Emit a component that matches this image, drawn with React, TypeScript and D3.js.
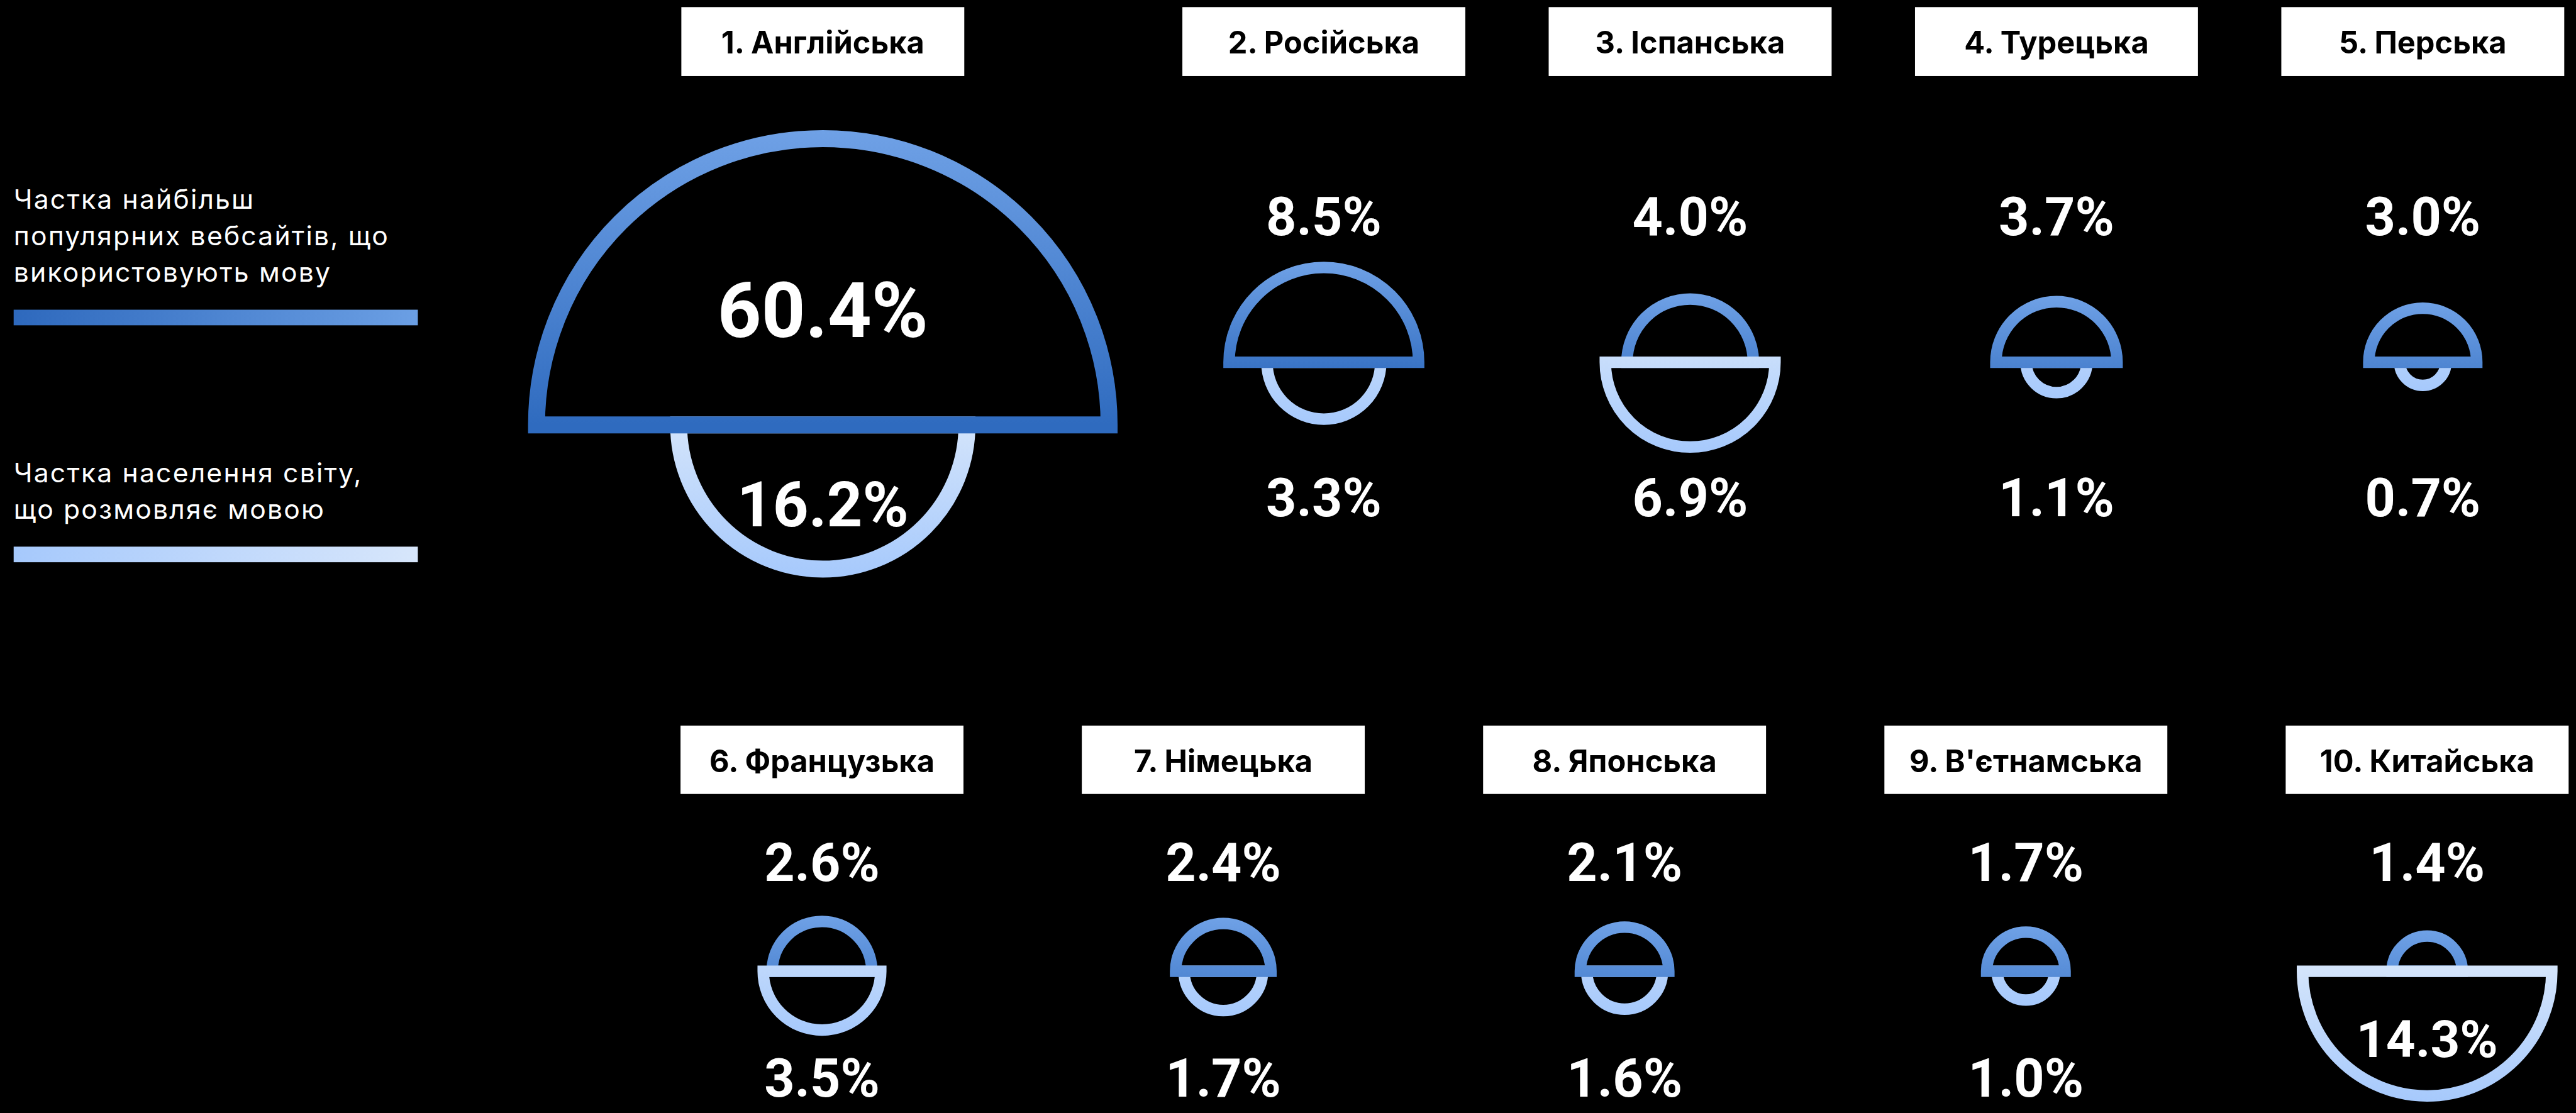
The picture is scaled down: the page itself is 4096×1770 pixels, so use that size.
import React, { useEffect } from 'react';
import * as d3 from 'd3';

// ranking of languages by share of the most popular websites
const languages = [
  'Англійська',
  'Російська',
  'Іспанська',
  'Турецька',
  'Перська',
  'Французька',
  'Німецька',
  'Японська',
  "В'єтнамська",
  'Китайська',
];
const websiteShare = [60.4, 8.5, 4.0, 3.7, 3.0, 2.6, 2.4, 2.1, 1.7, 1.4];
const speakerShare = [16.2, 3.3, 6.9, 1.1, 0.7, 3.5, 1.7, 1.6, 1.0, 14.3];

const legendWeb = ['Частка найбільш', 'популярних вебсайтів, що', 'використовують мову'];
const legendPop = ['Частка населення світу,', 'що розмовляє мовою'];

// drawing is done in the reference's coordinates and scaled by the viewBox
const W = 4706;
const H = 2034;
const OUT_W = 4096;
const OUT_H = 1770;
const FONT = 'Inter, "Noto Sans", "DejaVu Sans", sans-serif';
const NUM_FONT = 'Roboto, Inter, "Noto Sans", sans-serif';

const BOX_W = 517;
const ROWS = [
  { boxTop: 13, boxH: 126, base: 662, topLabel: 430, bottomLabel: 944, topLimit: 238 },
  { boxTop: 1326, boxH: 125, base: 1775, topLabel: 1610, bottomLabel: 2004, topLimit: 1500 },
];

const TOP_LIGHT = '#6fa1e6';
const TOP_DARK = '#2f6bbf';
const BOT_LIGHT = '#d3e4fb';
const BOT_DARK = '#a6c9fc';

const fmt = d3.format('.1f');
const rScale = d3.scaleSqrt().domain([0, 1]).range([0, 63]); // outer radius
const row1X = d3.scalePoint<string>().domain(languages.slice(1, 5)).range([2418.5, 4426.5]);
const row2X = d3.scalePoint<string>().domain(languages.slice(5)).range([1501.5, 4434.5]);

function halfDisc(cx: number, base: number, r: number, up: boolean) {
  const p = d3.path();
  p.moveTo(cx - r, base);
  if (up) p.arc(cx, base, r, Math.PI, 2 * Math.PI);
  else p.arc(cx, base, r, Math.PI, 0, true);
  p.closePath();
  return p.toString();
}

const App: React.FC = () => {
  useEffect(() => {
    document.body.style.margin = '0';
    document.body.style.background = '#000';
  }, []);

  const panels = languages.map((name, i) => {
    const featured = i === 0;
    const row = i < 5 ? ROWS[0] : ROWS[1];
    const cx = featured ? 1503 : i < 5 ? (row1X(name) as number) : (row2X(name) as number);
    const k = featured ? 1.1 : 1;
    const sw = featured ? 31 : 21;
    const outerTop = rScale(websiteShare[i]) * k;
    const outerBot = rScale(speakerShare[i]) * k;
    const base = Math.max(row.base, row.topLimit + outerTop);

    const shapes = [
      { key: 'top', up: true, value: websiteShare[i], outer: outerTop },
      { key: 'bot', up: false, value: speakerShare[i], outer: outerBot },
    ].map((s) => {
      const L = Math.max(s.outer, 230);
      const far = s.up ? base - s.outer : base + s.outer;
      const inside = s.outer > 200;
      const size = inside ? (featured ? (s.up ? 140 : 114) : 94) : 97;
      let y: number;
      if (inside) {
        const c = s.up ? base - 0.39 * s.outer : base + 0.52 * s.outer;
        y = c + 0.355 * size;
      } else {
        y = s.up ? row.topLabel : row.bottomLabel;
      }
      return {
        ...s,
        id: `g-${i}-${s.key}`,
        d: halfDisc(cx, base, s.outer - sw / 2, s.up),
        y1: far,
        y2: s.up ? far + L : far - L,
        c1: s.up ? TOP_LIGHT : BOT_DARK,
        c2: s.up ? TOP_DARK : BOT_LIGHT,
        label: `${fmt(s.value)}%`,
        labelY: y,
        size,
      };
    });
    // the larger half is drawn last so its base line covers the smaller one
    shapes.sort((a, b) => a.outer - b.outer);

    return { name, i, cx, row, sw, shapes };
  });

  return (
    <svg
      width={OUT_W}
      height={OUT_H}
      viewBox={`0 0 ${W} ${H}`}
      style={{ position: 'absolute', left: 0, top: 0, display: 'block' }}
      fontFamily={FONT}
    >
      <defs>
        <linearGradient id="leg-web" x1="0" x2="1" y1="0" y2="0">
          <stop offset="0" stopColor="#2e69bd" />
          <stop offset="1" stopColor="#6b9fe4" />
        </linearGradient>
        <linearGradient id="leg-pop" x1="0" x2="1" y1="0" y2="0">
          <stop offset="0" stopColor="#a6c9fc" />
          <stop offset="1" stopColor="#d7e6fb" />
        </linearGradient>
        {panels.map((p) =>
          p.shapes.map((s) => (
            <linearGradient
              key={s.id}
              id={s.id}
              gradientUnits="userSpaceOnUse"
              x1={0}
              x2={0}
              y1={s.y1}
              y2={s.y2}
            >
              <stop offset="0" stopColor={s.c1} />
              <stop offset="1" stopColor={s.c2} />
            </linearGradient>
          ))
        )}
      </defs>

      <rect x={0} y={0} width={W} height={H} fill="#000" />

      {/* legend */}
      <g fill="#fff" fontSize={49} letterSpacing={2.5}>
        {legendWeb.map((t, j) => (
          <text key={t} x={24.5} y={381 + j * 67}>
            {t}
          </text>
        ))}
        {legendPop.map((t, j) => (
          <text key={t} x={24.5} y={881 + j * 67}>
            {t}
          </text>
        ))}
      </g>
      <rect x={24.5} y={566} width={738.5} height={28.5} fill="url(#leg-web)" />
      <rect x={24.5} y={999} width={738.5} height={28.5} fill="url(#leg-pop)" />

      {panels.map((p) => (
        <g key={p.name}>
          <rect
            x={p.cx - BOX_W / 2}
            y={p.row.boxTop}
            width={BOX_W}
            height={p.row.boxH}
            fill="#fff"
          />
          <text
            x={p.cx}
            y={p.row.boxTop + 85}
            textAnchor="middle"
            fontSize={56}
            fontWeight={700}
            fill="#000"
          >
            {`${p.i + 1}. ${p.name}`}
          </text>
          {p.shapes.map((s) => (
            <path
              key={s.id}
              d={s.d}
              fill="none"
              stroke={`url(#${s.id})`}
              strokeWidth={p.sw}
              strokeLinejoin="miter"
            />
          ))}
          {p.shapes.map((s) => (
            <text
              key={s.id + '-t'}
              x={p.cx}
              y={s.labelY}
              textAnchor="middle"
              fontFamily={NUM_FONT}
              fontSize={s.size}
              fontWeight={700}
              fill="#fff"
            >
              {s.label}
            </text>
          ))}
        </g>
      ))}
    </svg>
  );
};

export default App;
